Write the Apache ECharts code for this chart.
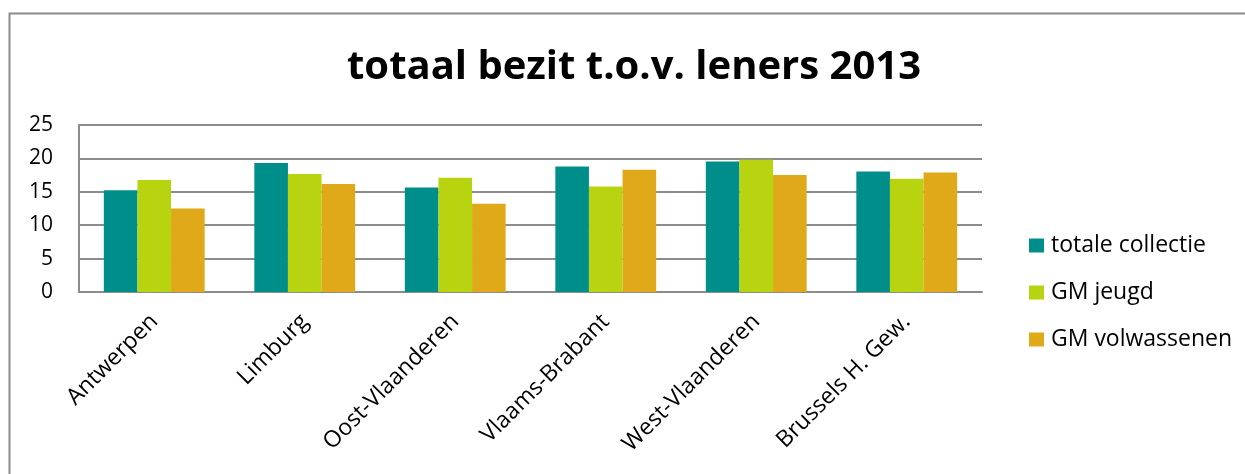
<!DOCTYPE html>
<html>
<head>
<meta charset="utf-8">
<script src="https://cdn.jsdelivr.net/npm/echarts@6/dist/echarts.min.js"></script>
<style>
  html, body { margin: 0; padding: 0; background: #fff; }
  #main { width: 1245px; height: 474px; }
</style>
</head>
<body>
<div id="main"></div>
<script>
// categorieën en waarden
var provincies = ['Antwerpen', 'Limburg', 'Oost-Vlaanderen', 'Vlaams-Brabant', 'West-Vlaanderen', 'Brussels H. Gew.'];
var totaleCollectie = [15.25, 19.3, 15.65, 18.8, 19.55, 18.05];
var gmJeugd = [16.75, 17.65, 17.1, 15.8, 19.8, 16.95];
var gmVolwassenen = [12.5, 16.15, 13.2, 18.3, 17.5, 17.9];
var yTicks = [0, 5, 10, 15, 20, 25];

var font = '"Open Sans", "Noto Sans", sans-serif';

var myChart = echarts.init(document.getElementById('main'));

var option = {
    animation: false,
    textStyle: { fontFamily: font },
    title: {
        text: 'totaal bezit t.o.v. leners 2013',
        left: 342,
        top: 43,
        textStyle: { fontFamily: font, fontWeight: 'bold', fontSize: 40, color: '#000' }
    },
    // rand rond de grafiek
    graphic: [{
        type: 'rect',
        shape: { x: 9.5, y: 13.5, width: 1250, height: 480 },
        style: { fill: 'none', stroke: '#8c8c8c', lineWidth: 2 },
        silent: true
    }],
    legend: {
        orient: 'vertical',
        left: 1024,
        top: 229,
        itemWidth: 15,
        itemHeight: 14,
        itemGap: 24,
        icon: 'rect',
        textStyle: { fontFamily: font, fontSize: 23, color: '#000', padding: [0, 0, 0, 2] },
        data: ['totale collectie', 'GM jeugd', 'GM volwassenen']
    },
    grid: {
        left: 79,
        right: 263,
        top: 125,
        bottom: 182
    },
    xAxis: {
        type: 'category',
        data: provincies,
        axisLine: { lineStyle: { color: '#8c8c8c', width: 2 } },
        axisTick: { show: false },
        axisLabel: { rotate: 45, fontSize: 23, color: '#000', fontFamily: font, margin: 26 }
    },
    yAxis: {
        type: 'value',
        min: yTicks[0],
        max: yTicks[yTicks.length - 1],
        interval: 5,
        axisLine: { show: true, lineStyle: { color: '#8c8c8c', width: 2 } },
        axisTick: { show: false },
        axisLabel: { fontSize: 21, color: '#000', fontFamily: font, margin: 26 },
        splitLine: { lineStyle: { color: '#8c8c8c', width: 2 } }
    },
    series: [
        {
            name: 'totale collectie',
            type: 'bar',
            data: totaleCollectie,
            barGap: '0%',
            barCategoryGap: '33%',
            itemStyle: { color: '#008e8b' }
        },
        {
            name: 'GM jeugd',
            type: 'bar',
            data: gmJeugd,
            itemStyle: { color: '#b8d30f' }
        },
        {
            name: 'GM volwassenen',
            type: 'bar',
            data: gmVolwassenen,
            itemStyle: { color: '#e0a91a' }
        }
    ]
};
myChart.setOption(option);
</script>
</body>
</html>
